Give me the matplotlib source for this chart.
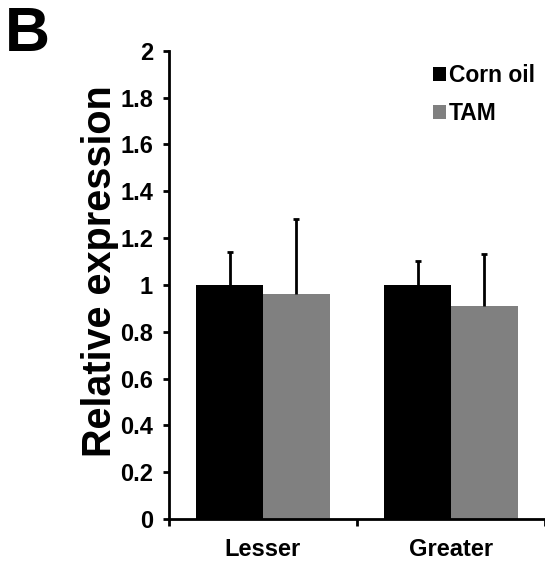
import matplotlib
matplotlib.use("Agg")
import matplotlib.pyplot as plt
import numpy as np

categories = ["Lesser", "Greater"]
series_names = ["Corn oil", "TAM"]
corn_oil = [1.0, 1.0]
corn_oil_err = [0.14, 0.10]
tam = [0.96, 0.91]
tam_err = [0.32, 0.22]
yticks = [0, 0.2, 0.4, 0.6, 0.8, 1, 1.2, 1.4, 1.6, 1.8, 2]
ytick_labels = ["0", "0.2", "0.4", "0.6", "0.8", "1", "1.2", "1.4", "1.6", "1.8", "2"]

plt.rcParams['font.family'] = ['Liberation Sans', 'DejaVu Sans']
plt.rcParams['font.weight'] = 'bold'

fig = plt.figure(figsize=(5.45, 5.64), dpi=100)
ax = fig.add_axes([169/545, 1 - 519/564, 1 - 169/545, (519 - 50.7)/564])

x = np.arange(len(categories)) + 0.5
w = 0.355
colors = ["#000000", "#808080"]
ekw = dict(ecolor="black", elinewidth=2, capthick=2)
b1 = ax.bar(x - w/2, corn_oil, w, color=colors[0], label=series_names[0],
            yerr=[[0]*len(corn_oil), corn_oil_err], capsize=2.5,
            error_kw=ekw, zorder=2)
b2 = ax.bar(x + w/2, tam, w, color=colors[1], label=series_names[1],
            yerr=[[0]*len(tam), tam_err], capsize=2.5,
            error_kw=ekw, zorder=2)
# hide the lower caps (one-sided error bars)
for b in (b1, b2):
    caps = b.errorbar.lines[1]
    if len(caps) >= 2:
        caps[0].set_visible(False)

ax.set_xlim(0, len(categories))
ax.set_ylim(0, 2)
ax.set_yticks(yticks)
ax.set_yticklabels(ytick_labels, fontsize=17, fontweight='bold')
ax.set_xticks(np.arange(len(categories) + 1))
ax.set_xticklabels([])
ax.set_xticks(x, minor=True)
ax.set_xticklabels(categories, minor=True, fontsize=17, fontweight='bold')
ax.tick_params(axis='x', which='minor', length=0, pad=14)
ax.tick_params(axis='x', which='major', length=5, width=2, direction='out')
ax.tick_params(axis='y', length=4.5, width=2, direction='out', pad=7)

for s in ['top', 'right']:
    ax.spines[s].set_visible(False)
for s in ['left', 'bottom']:
    ax.spines[s].set_linewidth(2)
ax.spines['bottom'].set_clip_on(False)

leg = ax.legend(loc='upper left', bbox_to_anchor=(0.702, 0.972), frameon=False,
                prop=dict(weight='bold', size=16.5),
                handlelength=0.55, handleheight=0.55, handletextpad=0.15,
                labelspacing=0.68, borderpad=0, borderaxespad=0)

fig.text(100/545, 1 - 271.5/564, "Relative expression", rotation=90,
         ha='center', va='center', fontsize=28.5, fontweight='bold')
fig.text(5/545, 1 - 5/564, "B", ha='left', va='top', fontsize=45, fontweight='bold')

fig.savefig("out.png", dpi=100)
